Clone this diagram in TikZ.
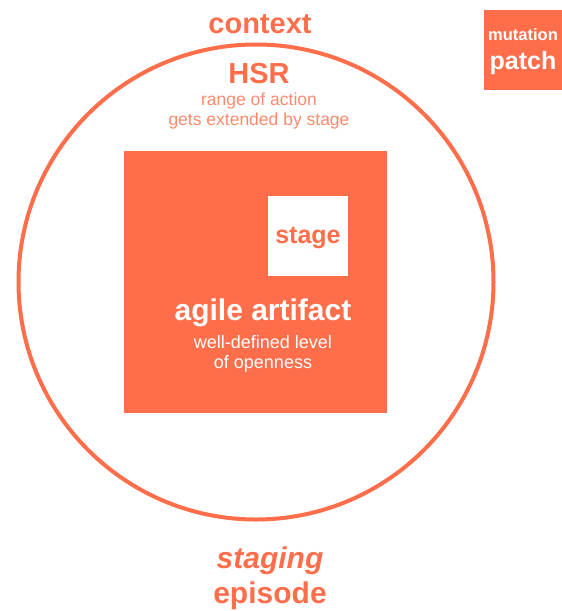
\documentclass[tikz,border=0pt]{standalone}
\usepackage{fontspec}
\setmainfont{Liberation Sans}
\usetikzlibrary{positioning}
\definecolor{coral}{HTML}{FF6E4B}
\definecolor{corallight}{HTML}{FF8A6C}

\begin{document}
\begin{tikzpicture}[x=1pt, y=-1pt, every node/.style={inner sep=0pt, anchor=base}]
  \useasboundingbox (0,0) rectangle (562,611);
  % context circle
  \draw[coral, line width=4pt] (256,282) circle (237.5pt);
  \node[text=coral, font=\fontsize{29}{29}\selectfont\bfseries] (context) at (260,33) {context};
  \node[text=coral, font=\fontsize{29}{29}\selectfont\bfseries] (hsr) at (259,83) {HSR};
  \node[text=corallight, font=\fontsize{17.5}{21}\selectfont] (hsrline1) at (259,105) {range of action};
  \node[text=corallight, font=\fontsize{17.5}{21}\selectfont] (hsrline2) at (259,125) {gets extended by stage};
  % artifact with stage
  \node[fill=coral, minimum width=263pt, minimum height=262pt, anchor=center] (artifact) at (255.5,282) {};
  \node[fill=white, minimum width=80pt, minimum height=80pt, anchor=center] (stage) at (308,236) {};
  \node[text=coral, font=\fontsize{25}{25}\selectfont\bfseries] (stagelabel) at (308,243) {stage};
  \node[text=white, font=\fontsize{30}{30}\selectfont\bfseries] (agile) at (263,320) {agile artifact};
  \node[text=white, font=\fontsize{18}{21}\selectfont] (agileline1) at (263,348) {well-defined level};
  \node[text=white, font=\fontsize{18}{21}\selectfont] (agileline2) at (263,368) {of openness};
  % patch
  \node[fill=coral, minimum width=78pt, minimum height=80pt, anchor=center] (patch) at (523,50) {};
  \node[text=white, font=\fontsize{16.5}{18}\selectfont\bfseries] (mutation) at (523,40) {mutation};
  \node[text=white, font=\fontsize{25}{25}\selectfont\bfseries] (patchlabel) at (523,69) {patch};
  % episode
  \node[text=coral, font=\fontsize{30}{30}\selectfont\bfseries\itshape] (staging) at (270,568) {staging};
  \node[text=coral, font=\fontsize{30}{30}\selectfont\bfseries] (episode) at (270,603) {episode};
\end{tikzpicture}
\end{document}
